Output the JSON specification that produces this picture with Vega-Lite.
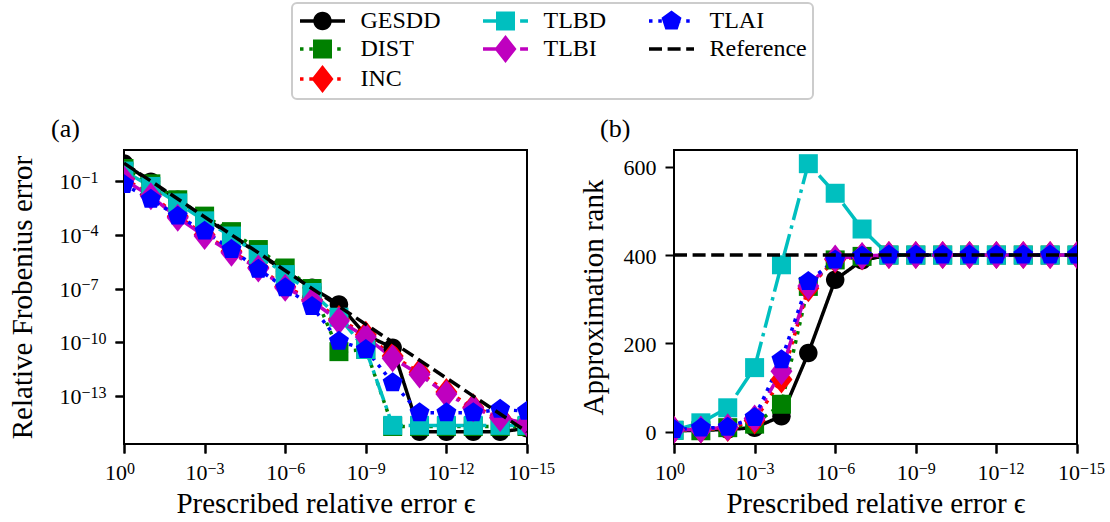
{
  "$schema": "https://vega.github.io/schema/vega-lite/v6.json",
  "background": "white",
  "padding": {"left": 6, "top": 2, "right": 5, "bottom": 5},
  "bounds": "flush",
  "spacing": 147,
  "config": {
    "font": "Liberation Serif",
    "view": {"stroke": "black", "strokeWidth": 2},
    "axis": {
      "domain": false, "grid": false, "ticks": true,
      "tickColor": "black", "tickWidth": 2, "tickSize": 9,
      "labelPadding": 9, "labelFont": "Liberation Serif", "labelFontSize": 22,
      "labelColor": "black", "labelFlush": false, "labelOverlap": false,
      "titleFont": "Liberation Serif", "titleFontSize": 29,
      "titleFontWeight": "normal", "titleColor": "black"
    },
    "title": {
      "font": "Liberation Serif", "fontSize": 26, "fontWeight": "normal",
      "color": "black", "anchor": "start", "frame": "group",
      "baseline": "alphabetic", "offset": 8
    }
  },
  "datasets": {
    "err": [
      {"eps": 1, "method": "GESDD", "v": 0.95},
      {"eps": 1e-1, "method": "GESDD", "v": 0.09},
      {"eps": 1e-2, "method": "GESDD", "v": 0.009},
      {"eps": 1e-3, "method": "GESDD", "v": 9e-4},
      {"eps": 1e-4, "method": "GESDD", "v": 9e-5},
      {"eps": 1e-5, "method": "GESDD", "v": 9e-6},
      {"eps": 1e-6, "method": "GESDD", "v": 9e-7},
      {"eps": 1e-7, "method": "GESDD", "v": 1.1e-7},
      {"eps": 1e-8, "method": "GESDD", "v": 1.3e-8},
      {"eps": 1e-9, "method": "GESDD", "v": 2.5e-10},
      {"eps": 1e-10, "method": "GESDD", "v": 5e-11},
      {"eps": 1e-11, "method": "GESDD", "v": 1.0e-15},
      {"eps": 1e-12, "method": "GESDD", "v": 1.0e-15},
      {"eps": 1e-13, "method": "GESDD", "v": 1.0e-15},
      {"eps": 1e-14, "method": "GESDD", "v": 1.0e-15},
      {"eps": 1e-15, "method": "GESDD", "v": 1.6e-15},

      {"eps": 1, "method": "DIST", "v": 0.5},
      {"eps": 1e-1, "method": "DIST", "v": 0.07},
      {"eps": 1e-2, "method": "DIST", "v": 0.009},
      {"eps": 1e-3, "method": "DIST", "v": 1.1e-3},
      {"eps": 1e-4, "method": "DIST", "v": 1.5e-4},
      {"eps": 1e-5, "method": "DIST", "v": 1.5e-5},
      {"eps": 1e-6, "method": "DIST", "v": 1.4e-6},
      {"eps": 1e-7, "method": "DIST", "v": 1.0e-7},
      {"eps": 1e-8, "method": "DIST", "v": 3e-11},
      {"eps": 1e-9, "method": "DIST", "v": 4e-11},
      {"eps": 1e-10, "method": "DIST", "v": 2.0e-15},
      {"eps": 1e-11, "method": "DIST", "v": 2.0e-15},
      {"eps": 1e-12, "method": "DIST", "v": 2.0e-15},
      {"eps": 1e-13, "method": "DIST", "v": 2.0e-15},
      {"eps": 1e-14, "method": "DIST", "v": 2.0e-15},
      {"eps": 1e-15, "method": "DIST", "v": 2.0e-15},

      {"eps": 1, "method": "INC", "v": 0.14},
      {"eps": 1e-1, "method": "INC", "v": 0.017},
      {"eps": 1e-2, "method": "INC", "v": 1.1e-3},
      {"eps": 1e-3, "method": "INC", "v": 1.0e-4},
      {"eps": 1e-4, "method": "INC", "v": 1.2e-5},
      {"eps": 1e-5, "method": "INC", "v": 1.5e-6},
      {"eps": 1e-6, "method": "INC", "v": 1.3e-7},
      {"eps": 1e-7, "method": "INC", "v": 2.4e-8},
      {"eps": 1e-8, "method": "INC", "v": 2.0e-9},
      {"eps": 1e-9, "method": "INC", "v": 2.6e-10},
      {"eps": 1e-10, "method": "INC", "v": 1.7e-11},
      {"eps": 1e-11, "method": "INC", "v": 2.1e-12},
      {"eps": 1e-12, "method": "INC", "v": 1.7e-13},
      {"eps": 1e-13, "method": "INC", "v": 2.4e-14},
      {"eps": 1e-14, "method": "INC", "v": 6.5e-15},
      {"eps": 1e-15, "method": "INC", "v": 3.2e-15},

      {"eps": 1, "method": "TLBD", "v": 0.36},
      {"eps": 1e-1, "method": "TLBD", "v": 0.05},
      {"eps": 1e-2, "method": "TLBD", "v": 0.006},
      {"eps": 1e-3, "method": "TLBD", "v": 6e-4},
      {"eps": 1e-4, "method": "TLBD", "v": 8.5e-5},
      {"eps": 1e-5, "method": "TLBD", "v": 8e-6},
      {"eps": 1e-6, "method": "TLBD", "v": 6e-7},
      {"eps": 1e-7, "method": "TLBD", "v": 6e-8},
      {"eps": 1e-8, "method": "TLBD", "v": 2.5e-9},
      {"eps": 1e-9, "method": "TLBD", "v": 4e-11},
      {"eps": 1e-10, "method": "TLBD", "v": 2.3e-15},
      {"eps": 1e-11, "method": "TLBD", "v": 2.3e-15},
      {"eps": 1e-12, "method": "TLBD", "v": 2.3e-15},
      {"eps": 1e-13, "method": "TLBD", "v": 2.3e-15},
      {"eps": 1e-14, "method": "TLBD", "v": 2.3e-15},
      {"eps": 1e-15, "method": "TLBD", "v": 2.3e-15},

      {"eps": 1, "method": "TLBI", "v": 0.12},
      {"eps": 1e-1, "method": "TLBI", "v": 0.014},
      {"eps": 1e-2, "method": "TLBI", "v": 9e-4},
      {"eps": 1e-3, "method": "TLBI", "v": 8.5e-5},
      {"eps": 1e-4, "method": "TLBI", "v": 1e-5},
      {"eps": 1e-5, "method": "TLBI", "v": 1.3e-6},
      {"eps": 1e-6, "method": "TLBI", "v": 1.1e-7},
      {"eps": 1e-7, "method": "TLBI", "v": 2e-8},
      {"eps": 1e-8, "method": "TLBI", "v": 1.6e-9},
      {"eps": 1e-9, "method": "TLBI", "v": 2e-10},
      {"eps": 1e-10, "method": "TLBI", "v": 1.3e-11},
      {"eps": 1e-11, "method": "TLBI", "v": 1.6e-12},
      {"eps": 1e-12, "method": "TLBI", "v": 1.3e-13},
      {"eps": 1e-13, "method": "TLBI", "v": 2.1e-14},
      {"eps": 1e-14, "method": "TLBI", "v": 6e-15},
      {"eps": 1e-15, "method": "TLBI", "v": 3e-15},

      {"eps": 1, "method": "TLAI", "v": 0.065},
      {"eps": 1e-1, "method": "TLAI", "v": 0.0095},
      {"eps": 1e-2, "method": "TLAI", "v": 1.1e-3},
      {"eps": 1e-3, "method": "TLAI", "v": 1.6e-4},
      {"eps": 1e-4, "method": "TLAI", "v": 1.5e-5},
      {"eps": 1e-5, "method": "TLAI", "v": 1.2e-6},
      {"eps": 1e-6, "method": "TLAI", "v": 1.1e-7},
      {"eps": 1e-7, "method": "TLAI", "v": 1e-8},
      {"eps": 1e-8, "method": "TLAI", "v": 1.15e-10},
      {"eps": 1e-9, "method": "TLAI", "v": 4e-11},
      {"eps": 1e-10, "method": "TLAI", "v": 5.5e-13},
      {"eps": 1e-11, "method": "TLAI", "v": 1.15e-14},
      {"eps": 1e-12, "method": "TLAI", "v": 1.15e-14},
      {"eps": 1e-13, "method": "TLAI", "v": 1.15e-14},
      {"eps": 1e-14, "method": "TLAI", "v": 1.8e-14},
      {"eps": 1e-15, "method": "TLAI", "v": 1.4e-14},

      {"eps": 1, "method": "Reference", "v": 1},
      {"eps": 1e-15, "method": "Reference", "v": 1e-15}
    ],
    "rank": [
      {"eps": 1, "method": "GESDD", "v": 2},
      {"eps": 1e-1, "method": "GESDD", "v": 3},
      {"eps": 1e-2, "method": "GESDD", "v": 5},
      {"eps": 1e-3, "method": "GESDD", "v": 9},
      {"eps": 1e-4, "method": "GESDD", "v": 35},
      {"eps": 1e-5, "method": "GESDD", "v": 178},
      {"eps": 1e-6, "method": "GESDD", "v": 344},
      {"eps": 1e-7, "method": "GESDD", "v": 388},
      {"eps": 1e-8, "method": "GESDD", "v": 400},
      {"eps": 1e-9, "method": "GESDD", "v": 400},
      {"eps": 1e-10, "method": "GESDD", "v": 400},
      {"eps": 1e-11, "method": "GESDD", "v": 400},
      {"eps": 1e-12, "method": "GESDD", "v": 400},
      {"eps": 1e-13, "method": "GESDD", "v": 400},
      {"eps": 1e-14, "method": "GESDD", "v": 400},
      {"eps": 1e-15, "method": "GESDD", "v": 400},

      {"eps": 1, "method": "DIST", "v": 3},
      {"eps": 1e-1, "method": "DIST", "v": 2},
      {"eps": 1e-2, "method": "DIST", "v": 9},
      {"eps": 1e-3, "method": "DIST", "v": 17},
      {"eps": 1e-4, "method": "DIST", "v": 62},
      {"eps": 1e-5, "method": "DIST", "v": 329},
      {"eps": 1e-6, "method": "DIST", "v": 389},
      {"eps": 1e-7, "method": "DIST", "v": 397},
      {"eps": 1e-8, "method": "DIST", "v": 400},
      {"eps": 1e-9, "method": "DIST", "v": 400},
      {"eps": 1e-10, "method": "DIST", "v": 400},
      {"eps": 1e-11, "method": "DIST", "v": 400},
      {"eps": 1e-12, "method": "DIST", "v": 400},
      {"eps": 1e-13, "method": "DIST", "v": 400},
      {"eps": 1e-14, "method": "DIST", "v": 400},
      {"eps": 1e-15, "method": "DIST", "v": 400},

      {"eps": 1, "method": "INC", "v": 4},
      {"eps": 1e-1, "method": "INC", "v": 5},
      {"eps": 1e-2, "method": "INC", "v": 8},
      {"eps": 1e-3, "method": "INC", "v": 25},
      {"eps": 1e-4, "method": "INC", "v": 118},
      {"eps": 1e-5, "method": "INC", "v": 325},
      {"eps": 1e-6, "method": "INC", "v": 390},
      {"eps": 1e-7, "method": "INC", "v": 397},
      {"eps": 1e-8, "method": "INC", "v": 400},
      {"eps": 1e-9, "method": "INC", "v": 400},
      {"eps": 1e-10, "method": "INC", "v": 400},
      {"eps": 1e-11, "method": "INC", "v": 400},
      {"eps": 1e-12, "method": "INC", "v": 400},
      {"eps": 1e-13, "method": "INC", "v": 400},
      {"eps": 1e-14, "method": "INC", "v": 400},
      {"eps": 1e-15, "method": "INC", "v": 400},

      {"eps": 1, "method": "TLBD", "v": 3},
      {"eps": 1e-1, "method": "TLBD", "v": 20},
      {"eps": 1e-2, "method": "TLBD", "v": 54},
      {"eps": 1e-3, "method": "TLBD", "v": 145},
      {"eps": 1e-4, "method": "TLBD", "v": 378},
      {"eps": 1e-5, "method": "TLBD", "v": 607},
      {"eps": 1e-6, "method": "TLBD", "v": 540},
      {"eps": 1e-7, "method": "TLBD", "v": 459},
      {"eps": 1e-8, "method": "TLBD", "v": 400},
      {"eps": 1e-9, "method": "TLBD", "v": 400},
      {"eps": 1e-10, "method": "TLBD", "v": 400},
      {"eps": 1e-11, "method": "TLBD", "v": 400},
      {"eps": 1e-12, "method": "TLBD", "v": 400},
      {"eps": 1e-13, "method": "TLBD", "v": 400},
      {"eps": 1e-14, "method": "TLBD", "v": 400},
      {"eps": 1e-15, "method": "TLBD", "v": 400},

      {"eps": 1, "method": "TLBI", "v": 4},
      {"eps": 1e-1, "method": "TLBI", "v": 5},
      {"eps": 1e-2, "method": "TLBI", "v": 10},
      {"eps": 1e-3, "method": "TLBI", "v": 30},
      {"eps": 1e-4, "method": "TLBI", "v": 137},
      {"eps": 1e-5, "method": "TLBI", "v": 330},
      {"eps": 1e-6, "method": "TLBI", "v": 392},
      {"eps": 1e-7, "method": "TLBI", "v": 398},
      {"eps": 1e-8, "method": "TLBI", "v": 400},
      {"eps": 1e-9, "method": "TLBI", "v": 400},
      {"eps": 1e-10, "method": "TLBI", "v": 400},
      {"eps": 1e-11, "method": "TLBI", "v": 400},
      {"eps": 1e-12, "method": "TLBI", "v": 400},
      {"eps": 1e-13, "method": "TLBI", "v": 400},
      {"eps": 1e-14, "method": "TLBI", "v": 400},
      {"eps": 1e-15, "method": "TLBI", "v": 400},

      {"eps": 1, "method": "TLAI", "v": 5},
      {"eps": 1e-1, "method": "TLAI", "v": 8},
      {"eps": 1e-2, "method": "TLAI", "v": 10},
      {"eps": 1e-3, "method": "TLAI", "v": 32},
      {"eps": 1e-4, "method": "TLAI", "v": 163},
      {"eps": 1e-5, "method": "TLAI", "v": 340},
      {"eps": 1e-6, "method": "TLAI", "v": 389},
      {"eps": 1e-7, "method": "TLAI", "v": 398},
      {"eps": 1e-8, "method": "TLAI", "v": 400},
      {"eps": 1e-9, "method": "TLAI", "v": 400},
      {"eps": 1e-10, "method": "TLAI", "v": 400},
      {"eps": 1e-11, "method": "TLAI", "v": 400},
      {"eps": 1e-12, "method": "TLAI", "v": 400},
      {"eps": 1e-13, "method": "TLAI", "v": 400},
      {"eps": 1e-14, "method": "TLAI", "v": 400},
      {"eps": 1e-15, "method": "TLAI", "v": 400},

      {"eps": 1, "method": "Reference", "v": 400},
      {"eps": 1e-15, "method": "Reference", "v": 400}
    ]
  },
  "resolve": {
    "scale": {"color": "shared", "strokeDash": "shared", "shape": "shared"},
    "legend": {"color": "shared"}
  },
  "hconcat": [
    {
      "width": 403,
      "height": 294,
      "title": {"text": "(a)", "dx": -73},
      "data": {"name": "err"},
      "resolve": {"axis": {"x": "independent", "y": "independent"}},
      "layer": [
        {
          "transform": [{"filter": "datum.method !== 'Reference'"}],
          "mark": {"type": "line", "strokeWidth": 3.5, "clip": true},
          "encoding": {
            "x": {
              "field": "eps", "type": "quantitative",
              "scale": {"type": "log", "domain": [1e-15, 1], "reverse": true, "nice": false},
              "axis": {
                "orient": "bottom",
                "title": "Prescribed relative error ϵ", "titleY": 68.7, "titleBaseline": "alphabetic",
                "values": [1, 1e-3, 1e-6, 1e-9, 1e-12, 1e-15],
                "labelExpr": "'10'", "labelAlign": "right", "labelBaseline": "alphabetic",
                "labelPadding": 26, "labelOffset": 2.5
              }
            },
            "y": {
              "field": "v", "type": "quantitative",
              "scale": {"type": "log", "domain": [2.1e-16, 5.4], "nice": false},
              "axis": {
                "orient": "left",
                "title": "Relative Frobenius error", "titleX": -93, "titleY": 147, "titleBaseline": "alphabetic",
                "values": [1e-1, 1e-4, 1e-7, 1e-10, 1e-13],
                "labelExpr": "'10'", "labelAlign": "left", "labelBaseline": "alphabetic",
                "labelOffset": 7.5, "labelPadding": 56
              }
            },
            "color": {
              "field": "method", "type": "nominal",
              "scale": {
                "domain": ["GESDD", "TLBD", "TLAI", "DIST", "TLBI", "Reference", "INC"],
                "range": ["#000000", "#00bfbf", "#0000ff", "#008000", "#bf00bf", "#000000", "#ff0000"]
              },
              "legend": {
                "title": null,
                "orient": "none",
                "direction": "horizontal",
                "legendX": 168,
                "legendY": -147,
                "columns": 3,
                "symbolSize": 400,
                "symbolStrokeWidth": 0,
                "symbolOffset": 12.5,
                "labelFont": "Liberation Serif",
                "labelFontSize": 24,
                "labelColor": "black",
                "labelOffset": 26,
                "columnPadding": 40,
                "rowPadding": 2,
                "padding": 6,
                "strokeColor": "#cccccc",
                "fillColor": "white",
                "cornerRadius": 5,
                "encode": {
                  "legend": {"update": {"strokeWidth": {"value": 2}}},
                  "symbols": {
                    "update": {
                      "shape": {"signal": "datum.value === 'GESDD' ? 'M-2.25,-0.175H2.25V0.175H-2.25ZM0.925,0A0.925,0.925,0,1,1,-0.925,0A0.925,0.925,0,1,1,0.925,0Z' : datum.value === 'DIST' ? 'M-2.25,-0.175H-1.9V0.175H-2.25ZM-1.32,-0.175H-0.97V0.175H-1.32ZM-0.39,-0.175H-0.04V0.175H-0.39ZM0.54,-0.175H0.89V0.175H0.54ZM1.47,-0.175H1.82V0.175H1.47ZM-0.95,-0.95H0.95V0.95H-0.95Z' : datum.value === 'INC' ? 'M-2.25,-0.175H-1.9V0.175H-2.25ZM-1.32,-0.175H-0.97V0.175H-1.32ZM-0.39,-0.175H-0.04V0.175H-0.39ZM0.54,-0.175H0.89V0.175H0.54ZM1.47,-0.175H1.82V0.175H1.47ZM0,-1.4L1.1,0L0,1.4L-1.1,0Z' : datum.value === 'TLBD' ? 'M-2.25,-0.175H-0.01V0.175H-2.25ZM0.55,-0.175H0.9V0.175H0.55ZM1.46,-0.175H2.25V0.175H1.46ZM-0.95,-0.95H0.95V0.95H-0.95Z' : datum.value === 'TLBI' ? 'M-2.25,-0.175H-0.01V0.175H-2.25ZM0.55,-0.175H0.9V0.175H0.55ZM1.46,-0.175H2.25V0.175H1.46ZM0,-1.4L1.1,0L0,1.4L-1.1,0Z' : datum.value === 'TLAI' ? 'M-2.25,-0.175H-1.9V0.175H-2.25ZM-1.32,-0.175H-0.97V0.175H-1.32ZM-0.39,-0.175H-0.04V0.175H-0.39ZM0.54,-0.175H0.89V0.175H0.54ZM1.47,-0.175H1.82V0.175H1.47ZM0,-1.05L0.999,-0.324L0.617,0.849L-0.617,0.849L-0.999,-0.324Z' : 'M-2.25,-0.175H-0.95V0.175H-2.25ZM-0.39,-0.175H0.91V0.175H-0.39ZM1.47,-0.175H2.25V0.175H1.47Z'"},
                      "fill": {"scale": "color", "field": "value"},
                      "stroke": {"value": "transparent"},
                      "strokeWidth": {"value": 0},
                      "strokeDash": {"value": []},
                      "opacity": {"value": 1}
                    }
                  }
                }
              }
            },
            "strokeDash": {
              "field": "method", "type": "nominal",
              "scale": {
                "domain": ["GESDD", "DIST", "INC", "TLBD", "TLBI", "TLAI", "Reference"],
                "range": [[1, 0], [3.5, 5.8], [3.5, 5.8], [22.4, 5.6, 3.5, 5.6], [22.4, 5.6, 3.5, 5.6], [3.5, 5.8], [13, 5.6]]
              },
              "legend": null
            }
          }
        },
        {
          "transform": [{"filter": "datum.method !== 'Reference'"}],
          "mark": {"type": "point", "filled": true, "size": 400, "opacity": 1, "strokeWidth": 0, "clip": true},
          "encoding": {
            "x": {
              "field": "eps", "type": "quantitative",
              "scale": {"type": "log", "domain": [1e-15, 1], "reverse": true, "nice": false},
              "axis": {
                "orient": "bottom", "title": null,
                "values": [1, 1e-3, 1e-6, 1e-9, 1e-12, 1e-15],
                "labelExpr": "['0','−1','−2','−3','−4','−5','−6','−7','−8','−9','−10','−11','−12','−13','−14','−15'][round(-log(datum.value)/LN10)]",
                "labelAlign": "left", "labelBaseline": "alphabetic",
                "labelPadding": 20.5, "labelOffset": 2.5, "labelFontSize": 16
              }
            },
            "y": {
              "field": "v", "type": "quantitative",
              "scale": {"type": "log", "domain": [2.1e-16, 5.4], "nice": false},
              "axis": {
                "orient": "left", "title": null,
                "values": [1e-1, 1e-4, 1e-7, 1e-10, 1e-13],
                "labelExpr": "['0','−1','−2','−3','−4','−5','−6','−7','−8','−9','−10','−11','−12','−13','−14','−15'][round(-log(datum.value)/LN10)]",
                "labelAlign": "left", "labelBaseline": "alphabetic",
                "labelOffset": 1, "labelPadding": 34, "labelFontSize": 16
              }
            },
            "color": {
              "field": "method", "type": "nominal",
              "scale": {
                "domain": ["GESDD", "TLBD", "TLAI", "DIST", "TLBI", "Reference", "INC"],
                "range": ["#000000", "#00bfbf", "#0000ff", "#008000", "#bf00bf", "#000000", "#ff0000"]
              }
            },
            "shape": {
              "field": "method", "type": "nominal",
              "scale": {
                "domain": ["GESDD", "DIST", "INC", "TLBD", "TLBI", "TLAI"],
                "range": [
                  "M0.925,0A0.925,0.925,0,1,1,-0.925,0A0.925,0.925,0,1,1,0.925,0Z",
                  "M-0.95,-0.95H0.95V0.95H-0.95Z",
                  "M0,-1.4L1.1,0L0,1.4L-1.1,0Z",
                  "M-0.95,-0.95H0.95V0.95H-0.95Z",
                  "M0,-1.4L1.1,0L0,1.4L-1.1,0Z",
                  "M0,-1.05L0.999,-0.324L0.617,0.849L-0.617,0.849L-0.999,-0.324Z"
                ]
              },
              "legend": null
            }
          }
        },
        {
          "transform": [{"filter": "datum.method === 'Reference'"}],
          "mark": {"type": "line", "strokeWidth": 3.5, "clip": true},
          "encoding": {
            "x": {
              "field": "eps", "type": "quantitative",
              "scale": {"type": "log", "domain": [1e-15, 1], "reverse": true, "nice": false},
              "axis": null
            },
            "y": {
              "field": "v", "type": "quantitative",
              "scale": {"type": "log", "domain": [2.1e-16, 5.4], "nice": false},
              "axis": null
            },
            "color": {
              "field": "method", "type": "nominal",
              "scale": {
                "domain": ["GESDD", "TLBD", "TLAI", "DIST", "TLBI", "Reference", "INC"],
                "range": ["#000000", "#00bfbf", "#0000ff", "#008000", "#bf00bf", "#000000", "#ff0000"]
              }
            },
            "strokeDash": {
              "field": "method", "type": "nominal",
              "scale": {
                "domain": ["GESDD", "DIST", "INC", "TLBD", "TLBI", "TLAI", "Reference"],
                "range": [[1, 0], [3.5, 5.8], [3.5, 5.8], [22.4, 5.6, 3.5, 5.6], [22.4, 5.6, 3.5, 5.6], [3.5, 5.8], [13, 5.6]]
              },
              "legend": null
            }
          }
        }
      ]
    },
    {
      "width": 403,
      "height": 294,
      "title": {"text": "(b)", "dx": -74},
      "data": {"name": "rank"},
      "resolve": {"axis": {"x": "independent", "y": "independent"}},
      "layer": [
        {
          "transform": [{"filter": "datum.method !== 'Reference'"}],
          "mark": {"type": "line", "strokeWidth": 3.5, "clip": true},
          "encoding": {
            "x": {
              "field": "eps", "type": "quantitative",
              "scale": {"type": "log", "domain": [1e-15, 1], "reverse": true, "nice": false},
              "axis": {
                "orient": "bottom",
                "title": "Prescribed relative error ϵ", "titleY": 68.7, "titleBaseline": "alphabetic",
                "values": [1, 1e-3, 1e-6, 1e-9, 1e-12, 1e-15],
                "labelExpr": "'10'", "labelAlign": "right", "labelBaseline": "alphabetic",
                "labelPadding": 26, "labelOffset": 2.5
              }
            },
            "y": {
              "field": "v", "type": "quantitative",
              "scale": {"domain": [-28, 638], "nice": false, "zero": false},
              "axis": {
                "orient": "left",
                "title": "Approximation rank", "titleX": -72, "titleY": 147, "titleBaseline": "alphabetic",
                "values": [0, 200, 400, 600], "labelOffset": 1
              }
            },
            "color": {
              "field": "method", "type": "nominal",
              "scale": {
                "domain": ["GESDD", "TLBD", "TLAI", "DIST", "TLBI", "Reference", "INC"],
                "range": ["#000000", "#00bfbf", "#0000ff", "#008000", "#bf00bf", "#000000", "#ff0000"]
              }
            },
            "strokeDash": {
              "field": "method", "type": "nominal",
              "scale": {
                "domain": ["GESDD", "DIST", "INC", "TLBD", "TLBI", "TLAI", "Reference"],
                "range": [[1, 0], [3.5, 5.8], [3.5, 5.8], [22.4, 5.6, 3.5, 5.6], [22.4, 5.6, 3.5, 5.6], [3.5, 5.8], [13, 5.6]]
              },
              "legend": null
            }
          }
        },
        {
          "transform": [{"filter": "datum.method !== 'Reference'"}],
          "mark": {"type": "point", "filled": true, "size": 400, "opacity": 1, "strokeWidth": 0, "clip": true},
          "encoding": {
            "x": {
              "field": "eps", "type": "quantitative",
              "scale": {"type": "log", "domain": [1e-15, 1], "reverse": true, "nice": false},
              "axis": {
                "orient": "bottom", "title": null,
                "values": [1, 1e-3, 1e-6, 1e-9, 1e-12, 1e-15],
                "labelExpr": "['0','−1','−2','−3','−4','−5','−6','−7','−8','−9','−10','−11','−12','−13','−14','−15'][round(-log(datum.value)/LN10)]",
                "labelAlign": "left", "labelBaseline": "alphabetic",
                "labelPadding": 20.5, "labelOffset": 2.5, "labelFontSize": 16
              }
            },
            "y": {
              "field": "v", "type": "quantitative",
              "scale": {"domain": [-28, 638], "nice": false, "zero": false},
              "axis": null
            },
            "color": {
              "field": "method", "type": "nominal",
              "scale": {
                "domain": ["GESDD", "TLBD", "TLAI", "DIST", "TLBI", "Reference", "INC"],
                "range": ["#000000", "#00bfbf", "#0000ff", "#008000", "#bf00bf", "#000000", "#ff0000"]
              }
            },
            "shape": {
              "field": "method", "type": "nominal",
              "scale": {
                "domain": ["GESDD", "DIST", "INC", "TLBD", "TLBI", "TLAI"],
                "range": [
                  "M0.925,0A0.925,0.925,0,1,1,-0.925,0A0.925,0.925,0,1,1,0.925,0Z",
                  "M-0.95,-0.95H0.95V0.95H-0.95Z",
                  "M0,-1.4L1.1,0L0,1.4L-1.1,0Z",
                  "M-0.95,-0.95H0.95V0.95H-0.95Z",
                  "M0,-1.4L1.1,0L0,1.4L-1.1,0Z",
                  "M0,-1.05L0.999,-0.324L0.617,0.849L-0.617,0.849L-0.999,-0.324Z"
                ]
              },
              "legend": null
            }
          }
        },
        {
          "transform": [{"filter": "datum.method === 'Reference'"}],
          "mark": {"type": "line", "strokeWidth": 3.5, "clip": true},
          "encoding": {
            "x": {
              "field": "eps", "type": "quantitative",
              "scale": {"type": "log", "domain": [1e-15, 1], "reverse": true, "nice": false},
              "axis": null
            },
            "y": {
              "field": "v", "type": "quantitative",
              "scale": {"domain": [-28, 638], "nice": false, "zero": false},
              "axis": null
            },
            "color": {
              "field": "method", "type": "nominal",
              "scale": {
                "domain": ["GESDD", "TLBD", "TLAI", "DIST", "TLBI", "Reference", "INC"],
                "range": ["#000000", "#00bfbf", "#0000ff", "#008000", "#bf00bf", "#000000", "#ff0000"]
              }
            },
            "strokeDash": {
              "field": "method", "type": "nominal",
              "scale": {
                "domain": ["GESDD", "DIST", "INC", "TLBD", "TLBI", "TLAI", "Reference"],
                "range": [[1, 0], [3.5, 5.8], [3.5, 5.8], [22.4, 5.6, 3.5, 5.6], [22.4, 5.6, 3.5, 5.6], [3.5, 5.8], [13, 5.6]]
              },
              "legend": null
            }
          }
        }
      ]
    }
  ]
}
